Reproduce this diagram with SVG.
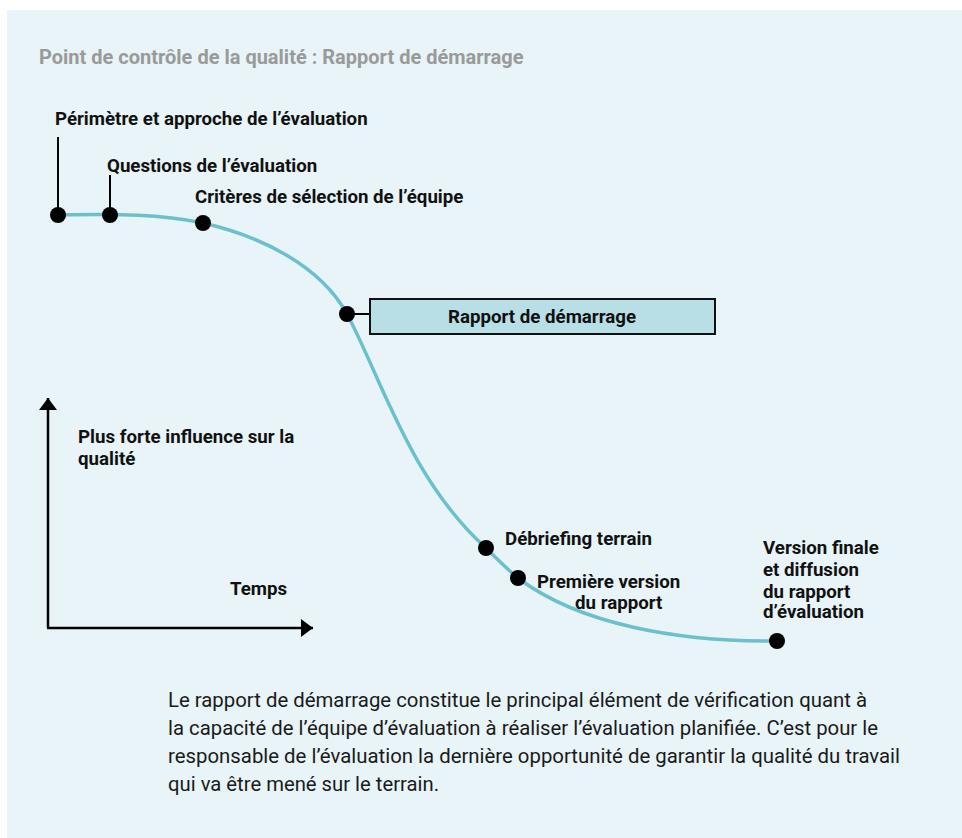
<svg xmlns="http://www.w3.org/2000/svg" width="962" height="838" viewBox="0 0 962 838">
<defs>
<style>
.lbl{font-family:Roboto,"Liberation Sans",sans-serif;font-weight:bold;font-size:18.7px;fill:#111}
.title{font-family:Roboto,"Liberation Sans",sans-serif;font-weight:bold;font-size:20px;fill:#9a9a9a}
.para{font-family:Roboto,"Liberation Sans",sans-serif;font-size:20px;fill:#1a1a1a}
.dot{fill:#000}
.tick{stroke:#000;stroke-width:2}
.axis{stroke:#000;stroke-width:2.5;fill:none}
</style>
<marker id="arr" markerWidth="12" markerHeight="18" refX="12" refY="9" orient="auto" markerUnits="userSpaceOnUse" viewBox="0 0 12 18">
<path d="M0,0 L12,9 L0,18 Z" fill="#000"/>
</marker>
</defs>
<rect x="7" y="10" width="955" height="828" fill="#e8f4f7"/>
<text class="title" x="39" y="64">Point de contrôle de la qualité : Rapport de démarrage</text>
<g id="connectors">
<path d="M58,215 C120,214 160,214 203,223 C260,236 320,265 347,314 C380,375 410,480 486,548 C500,562 508,570 518,578 C580,625 680,642 777,641" fill="none" stroke="#6cc0cc" stroke-width="3.5"/>
<line class="tick" x1="58" y1="137" x2="58" y2="215"/>
<line class="tick" x1="110" y1="175" x2="110" y2="215"/>
<line class="tick" x1="347" y1="314" x2="370" y2="314"/>
<line class="axis" x1="48" y1="628" x2="48" y2="398" marker-end="url(#arr)"/>
<line class="axis" x1="47" y1="628" x2="313" y2="628" marker-end="url(#arr)"/>
</g>
<g id="n1"><circle class="dot" cx="58" cy="215" r="8"/><text class="lbl" x="55" y="125">Périmètre et approche de l’évaluation</text></g>
<g id="n2"><circle class="dot" cx="110" cy="215" r="8"/><text class="lbl" x="107" y="172">Questions de l’évaluation</text></g>
<g id="n3"><circle class="dot" cx="203" cy="223" r="8"/><text class="lbl" x="195" y="203">Critères de sélection de l’équipe</text></g>
<g id="n4"><circle class="dot" cx="347" cy="314" r="8"/>
<rect x="370" y="299" width="345" height="35" fill="#b7dfe5" stroke="#111" stroke-width="2"/>
<text class="lbl" x="542" y="323" text-anchor="middle">Rapport de démarrage</text></g>
<g id="n5"><circle class="dot" cx="486" cy="548" r="8"/><text class="lbl" x="505" y="545">Débriefing terrain</text></g>
<g id="n6"><circle class="dot" cx="518" cy="578" r="8"/><text class="lbl" x="537" y="588">Première version</text><text class="lbl" x="575" y="609">du rapport</text></g>
<g id="n7"><circle class="dot" cx="777" cy="641" r="8"/>
<text class="lbl" x="763" y="554">Version finale</text><text class="lbl" x="763" y="576">et diffusion</text><text class="lbl" x="763" y="598">du rapport</text><text class="lbl" x="763" y="618">d’évaluation</text></g>
<g id="axes-labels">
<text class="lbl" x="78" y="443">Plus forte influence sur la</text>
<text class="lbl" x="78" y="465">qualité</text>
<text class="lbl" x="230" y="595">Temps</text>
</g>
<g id="para">
<text class="para" x="168" y="707" textLength="699" lengthAdjust="spacingAndGlyphs">Le rapport de démarrage constitue le principal élément de vérification quant à</text>
<text class="para" x="168" y="735" textLength="710" lengthAdjust="spacingAndGlyphs">la capacité de l’équipe d’évaluation à réaliser l’évaluation planifiée. C’est pour le</text>
<text class="para" x="168" y="763" textLength="732" lengthAdjust="spacingAndGlyphs">responsable de l’évaluation la dernière opportunité de garantir la qualité du travail</text>
<text class="para" x="168" y="791" textLength="271" lengthAdjust="spacingAndGlyphs">qui va être mené sur le terrain.</text>
</g>
</svg>
